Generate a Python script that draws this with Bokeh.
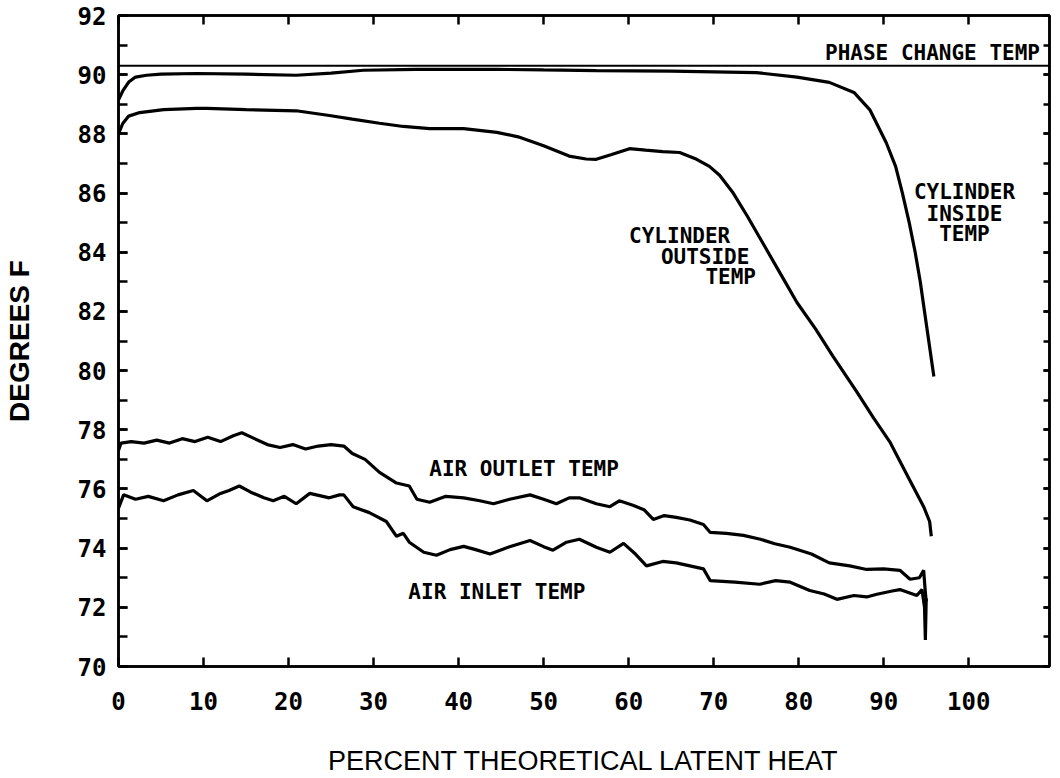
from bokeh.plotting import figure
from bokeh.models import Range1d, LinearAxis, SingleIntervalTicker, FixedTicker, Label, Span
from bokeh.embed import file_html
from bokeh.resources import INLINE

# ---------------- data ----------------
x_ticks = [0, 10, 20, 30, 40, 50, 60, 70, 80, 90, 100]
phase_change_temp = 90.3

inside_x = [0, 0.5, 1.2, 2.0, 3.3, 5, 9.2, 15, 20.9, 25, 28.8, 35, 44.5, 50, 56.2, 65, 75,
            79.8, 83.6, 86.5, 88.4, 90.3, 91.4, 92.2, 93.0, 93.7, 94.3, 94.8, 95.3, 95.7, 95.9]
inside_y = [89.15, 89.45, 89.75, 89.92, 89.98, 90.02, 90.04, 90.02, 89.98, 90.05, 90.15, 90.18, 90.18,
            90.16, 90.14, 90.12, 90.07, 89.92, 89.74, 89.4, 88.8, 87.7, 86.9, 86.0, 85.0, 84.0,
            83.0, 82.0, 81.0, 80.2, 79.8]

outside_x = [0, 0.5, 1.2, 2.5, 5.3, 9.2, 10.4, 15, 20.9, 24.8, 27.5, 30.7, 33.5, 36.6, 40.6, 44.5,
             47, 50, 53, 55, 56.2, 58, 60.1, 62, 64, 66, 68, 69.5, 70.7, 72.3, 74, 76, 78, 79.8,
             82, 84, 86.8, 88.8, 90.7, 92.7, 94.7, 95.4, 95.6]
outside_y = [88.0, 88.35, 88.6, 88.72, 88.82, 88.86, 88.86, 88.82, 88.78, 88.62, 88.5, 88.36, 88.25,
             88.18, 88.18, 88.05, 87.9, 87.6, 87.25, 87.15, 87.14, 87.3, 87.5, 87.45, 87.4, 87.37,
             87.14, 86.9, 86.6, 86.0, 85.2, 84.2, 83.2, 82.3, 81.4, 80.5, 79.3, 78.4, 77.6, 76.5,
             75.4, 74.9, 74.4]

outlet_x = [0, 0.3, 1.5, 3, 4.5, 6, 7.5, 9, 10.5, 12, 13.5, 14.5, 16, 17.5, 19, 20.5, 22, 23.5, 25,
            26.5, 27.5, 29, 30.7, 32.7, 34.2, 35.1, 36.6, 38.5, 40.6, 42.5, 44.1, 46, 48.4, 50,
            51.5, 53, 54.2, 56.2, 57.8, 58.9, 60.5, 61.8, 62.9, 64.2, 65.6, 67.2, 68.8, 69.6, 71.5,
            73.5, 75.5, 77.2, 79, 81.5, 83.6, 86, 88, 90, 91.9, 93.1, 94.2, 94.7, 94.9, 95.0]
outlet_y = [77.3, 77.55, 77.6, 77.55, 77.65, 77.55, 77.7, 77.6, 77.75, 77.6, 77.8, 77.9, 77.7, 77.5,
            77.4, 77.5, 77.35, 77.45, 77.5, 77.45, 77.2, 77.0, 76.56, 76.2, 76.1, 75.65, 75.55,
            75.75, 75.7, 75.6, 75.5, 75.65, 75.8, 75.65, 75.5, 75.7, 75.7, 75.5, 75.4, 75.6, 75.45,
            75.3, 74.97, 75.1, 75.04, 74.95, 74.8, 74.53, 74.5, 74.43, 74.3, 74.15, 74.03, 73.8,
            73.5, 73.4, 73.28, 73.3, 73.25, 72.95, 73.0, 73.25, 72.5, 72.2]

inlet_x = [0, 0.6, 2, 3.5, 5.3, 7, 8.8, 10.4, 12, 13, 14.2, 15.5, 17.1, 18.2, 19.5, 20.9, 22.5, 24.8,
           26, 26.5, 27.6, 29.5, 31.5, 32.7, 33.5, 34.2, 35.9, 37.4, 39, 40.6, 42, 43.7, 46, 48.4,
           50, 51.1, 52.7, 54.2, 56.2, 57.8, 59.4, 60.8, 62.1, 64, 65.6, 67.2, 68.8, 69.6, 72.5,
           75.4, 77.3, 79, 81.3, 83, 84.5, 86.5, 88, 89.2, 91, 91.9, 93.9, 94.5, 94.8, 94.9, 95.0]
inlet_y = [75.35, 75.8, 75.65, 75.75, 75.6, 75.8, 75.95, 75.6, 75.85, 75.95, 76.1, 75.9, 75.7, 75.6,
           75.75, 75.5, 75.85, 75.7, 75.8, 75.8, 75.4, 75.2, 74.9, 74.4, 74.5, 74.2, 73.86, 73.76,
           73.95, 74.06, 73.95, 73.8, 74.05, 74.26, 74.05, 73.93, 74.2, 74.3, 74.03, 73.86, 74.16,
           73.8, 73.4, 73.55, 73.5, 73.4, 73.3, 72.9, 72.85, 72.78, 72.9, 72.85, 72.57, 72.45,
           72.27, 72.4, 72.35, 72.44, 72.55, 72.6, 72.4, 72.6, 72.0, 70.9, 72.3]

# ---------------- figure ----------------
INK = "#000000"
TICK_FONT = "DejaVu Sans Mono"

p = figure(output_backend="svg", toolbar_location=None,
           frame_width=931, frame_height=651,
           min_border_left=114, min_border_right=5, min_border_top=15, min_border_bottom=104,
           x_range=Range1d(0, 109.5), y_range=Range1d(70, 92),
           x_axis_location=None, y_axis_location=None)
p.background_fill_color = "white"
p.border_fill_color = "white"
p.outline_line_color = INK
p.outline_line_width = 2.5
p.xgrid.visible = False
p.ygrid.visible = False


def style_axis(ax, labels=True):
    ax.axis_line_color = INK
    ax.axis_line_width = 2.5
    ax.major_tick_line_color = INK
    ax.major_tick_line_width = 2.5
    ax.minor_tick_line_color = INK
    ax.minor_tick_line_width = 2.5
    ax.major_tick_in = 9
    ax.major_tick_out = 0
    ax.minor_tick_in = 9
    ax.minor_tick_out = 0
    ax.major_label_text_font = TICK_FONT
    ax.major_label_text_font_style = "bold"
    ax.major_label_text_font_size = "24px"
    ax.major_label_text_color = INK
    if not labels:
        ax.major_label_text_font_size = "0px"
        ax.major_label_text_color = None


xb = LinearAxis(ticker=FixedTicker(ticks=x_ticks))
style_axis(xb)
xb.major_label_standoff = 25
xb.axis_label = "PERCENT THEORETICAL LATENT HEAT"
xb.axis_label_text_font = "Liberation Sans"
xb.axis_label_text_font_style = "normal"
xb.axis_label_text_font_size = "27px"
xb.axis_label_text_color = INK
xb.axis_label_standoff = 33
p.add_layout(xb, "below")

xt = LinearAxis(ticker=FixedTicker(ticks=x_ticks))
style_axis(xt, labels=False)
p.add_layout(xt, "above")

yl = LinearAxis(ticker=SingleIntervalTicker(interval=2, num_minor_ticks=2))
style_axis(yl)
yl.major_label_standoff = 12
yl.axis_label = "DEGREES F"
yl.axis_label_text_font = "Liberation Sans"
yl.axis_label_text_font_style = "bold"
yl.axis_label_text_font_size = "28px"
yl.axis_label_text_color = INK
yl.axis_label_standoff = 40
p.add_layout(yl, "left")

yr = LinearAxis(ticker=SingleIntervalTicker(interval=2, num_minor_ticks=2))
style_axis(yr, labels=False)
yr.major_tick_in = 6
yr.minor_tick_in = 6
p.add_layout(yr, "right")

# ---------------- data lines ----------------
p.add_layout(Span(location=phase_change_temp, dimension="width", line_color=INK, line_width=2))
p.line(inside_x, inside_y, line_color=INK, line_width=3.2)
p.line(outside_x, outside_y, line_color=INK, line_width=3.2)
p.line(outlet_x, outlet_y, line_color=INK, line_width=3.2)
p.line(inlet_x, inlet_y, line_color=INK, line_width=3.2)

# ---------------- in-plot labels ----------------
def add_label(text, x, y, align="center", baseline="middle", yoff=0):
    p.add_layout(Label(x=x, y=y, text=text, text_align=align, text_baseline=baseline,
                       y_offset=yoff, text_font=TICK_FONT, text_font_style="bold",
                       text_font_size="21px", text_color=INK))


add_label("PHASE CHANGE TEMP", 83.1, phase_change_temp, align="left", baseline="bottom", yoff=1)
add_label("CYLINDER", 99.5, 86.02)
add_label("INSIDE", 99.5, 85.28)
add_label("TEMP", 99.5, 84.60)
add_label("CYLINDER", 66.0, 84.55)
add_label("OUTSIDE", 69.0, 83.85)
add_label("TEMP", 72.0, 83.15)
add_label("AIR OUTLET TEMP", 47.7, 76.66)
add_label("AIR INLET TEMP", 44.5, 72.51)

open("out.html", "w").write(file_html(p, INLINE))
